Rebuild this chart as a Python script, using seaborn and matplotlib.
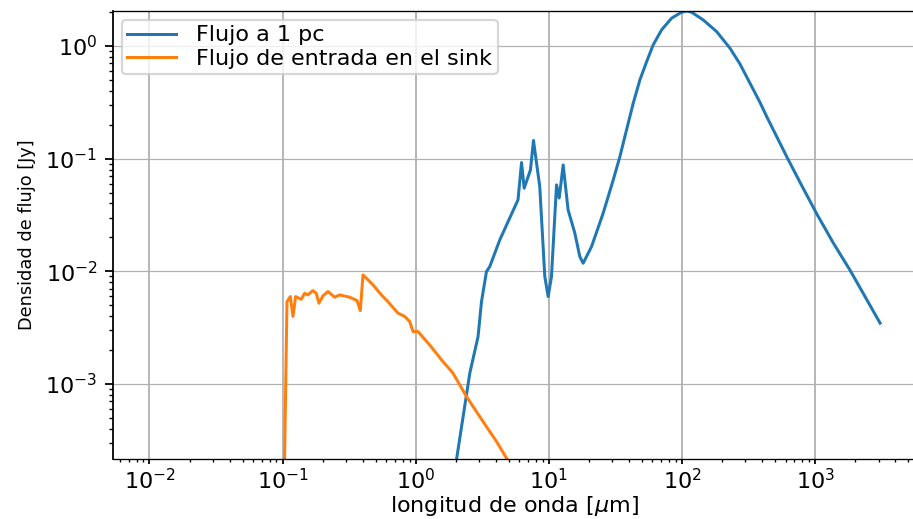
import numpy as np
import pandas as pd
import matplotlib
matplotlib.use("Agg")
import matplotlib.pyplot as plt
import seaborn as sns

# Spectral energy distribution at 1 pc (wavelength in micron, flux in Jy)
wl_1pc = [0.01, 1.0, 1.78, 2.55, 2.94, 3.12, 3.40, 3.60, 4.29, 4.81, 5.87, 6.24,
          6.53, 7.28, 7.67, 8.55, 9.33, 9.89, 10.47, 11.43, 11.97, 12.82, 13.96,
          15.67, 17.10, 18.11, 20.94, 25.59, 30.48, 34.20, 38.37, 43.05, 48.31,
          54.33, 60.81, 70.31, 83.56, 99.3, 108.4, 118.3, 144.5, 182.4, 229.6,
          272.9, 324.3, 385.5, 433.5, 612.4, 770.9, 1030, 1374, 1832, 3083]
flux_1pc = [1e-15, 1e-6, 7.9e-5, 1.25e-3, 2.63e-3, 5.37e-3, 9.93e-3, 1.10e-2,
            1.91e-2, 2.57e-2, 4.31e-2, 9.23e-2, 5.46e-2, 7.94e-2, 0.145, 5.65e-2,
            8.97e-3, 5.97e-3, 8.97e-3, 5.85e-2, 4.47e-2, 8.79e-2, 3.51e-2, 2.19e-2,
            1.35e-2, 1.18e-2, 0.01656, 0.03273, 0.06471, 0.1042, 0.1799, 0.3097,
            0.4989, 0.7261, 1.021, 1.387, 1.762, 1.991, 2.042, 1.991, 1.702, 1.340,
            0.955, 0.6918, 0.4677, 0.3162, 0.2360, 0.1042, 0.06166, 0.03236,
            0.01778, 0.01023, 0.003467]

# Inflow spectrum at the sink
wl_sink = [0.01, 0.0966, 0.1079, 0.1143, 0.1197, 0.1253, 0.1384, 0.1462, 0.1549,
           0.1690, 0.1791, 0.1875, 0.2009, 0.2193, 0.2460, 0.2685, 0.3192, 0.3622,
           0.3837, 0.4018, 0.4775, 0.5521, 0.6194, 0.7362, 0.8260, 0.9016, 0.955,
           1.040, 1.274, 1.603, 1.905, 2.404, 2.698, 3.396, 4.046, 4.808, 6.31,
           10.0, 100.0, 3000.0]
flux_sink = [1e-8, 1e-6, 5.37e-3, 5.97e-3, 3.98e-3, 5.97e-3, 5.65e-3, 6.38e-3,
             6.17e-3, 6.75e-3, 6.38e-3, 5.21e-3, 6.05e-3, 6.61e-3, 5.89e-3, 6.17e-3,
             5.89e-3, 5.50e-3, 4.48e-3, 9.29e-3, 7.59e-3, 6.17e-3, 5.37e-3, 4.25e-3,
             3.98e-3, 3.58e-3, 2.92e-3, 2.92e-3, 2.22e-3, 1.58e-3, 1.25e-3, 7.76e-4,
             6.31e-4, 4.19e-4, 3.09e-4, 2.20e-4, 1.41e-4, 6.3e-5, 1e-6, 1e-9]

labels = ["Flujo a 1 pc", "Flujo de entrada en el sink"]
x_ticks = [1e-2, 1e-1, 1e0, 1e1, 1e2, 1e3]
y_ticks = [1e-3, 1e-2, 1e-1, 1e0]

df_1pc = pd.DataFrame({"wl": wl_1pc, "flux": flux_1pc})
df_sink = pd.DataFrame({"wl": wl_sink, "flux": flux_sink})

fig = plt.figure(figsize=(913 / 160, 519 / 160), dpi=160)
ax = fig.add_axes([113 / 913, 60 / 519, 802 / 913, 448 / 519])
ax.set_xscale("log")
ax.set_yscale("log")

sns.lineplot(data=df_1pc, x="wl", y="flux", ax=ax, label=labels[0],
             color="#1f77b4", lw=1.35, estimator=None, sort=False)
sns.lineplot(data=df_sink, x="wl", y="flux", ax=ax, label=labels[1],
             color="#ff7f0e", lw=1.35, estimator=None, sort=False)

ax.set_xticks(x_ticks)
ax.set_yticks(y_ticks)
ax.set_xlim(10 ** -2.274, 10 ** 3.751)
ax.set_ylim(2.16e-4, max(flux_1pc))

# grid: vertical lines slightly heavier than horizontal ones
ax.xaxis.grid(True, which="major", color="#b0b0b0", lw=0.8)
ax.yaxis.grid(True, which="major", color="#b0b0b0", lw=0.55)
ax.set_axisbelow(True)
for side in ("top", "bottom"):
    ax.spines[side].set_linewidth(0.6)

ax.tick_params(axis="x", which="major", length=2.4, pad=1.5, labelsize=10)
ax.tick_params(axis="x", which="minor", length=1.5)
ax.tick_params(axis="y", labelsize=10)

ax.set_xlabel(r"longitud de onda [$\mu$m]", fontsize=10, labelpad=0.5)
ax.set_ylabel("Densidad de flujo [Jy]", fontsize=8)
ax.legend(loc="upper left", fontsize=10, labelspacing=0.15, borderpad=0.25,
          borderaxespad=0.4, handlelength=2.2, handletextpad=0.9)

fig.savefig("out.png", dpi=160)
